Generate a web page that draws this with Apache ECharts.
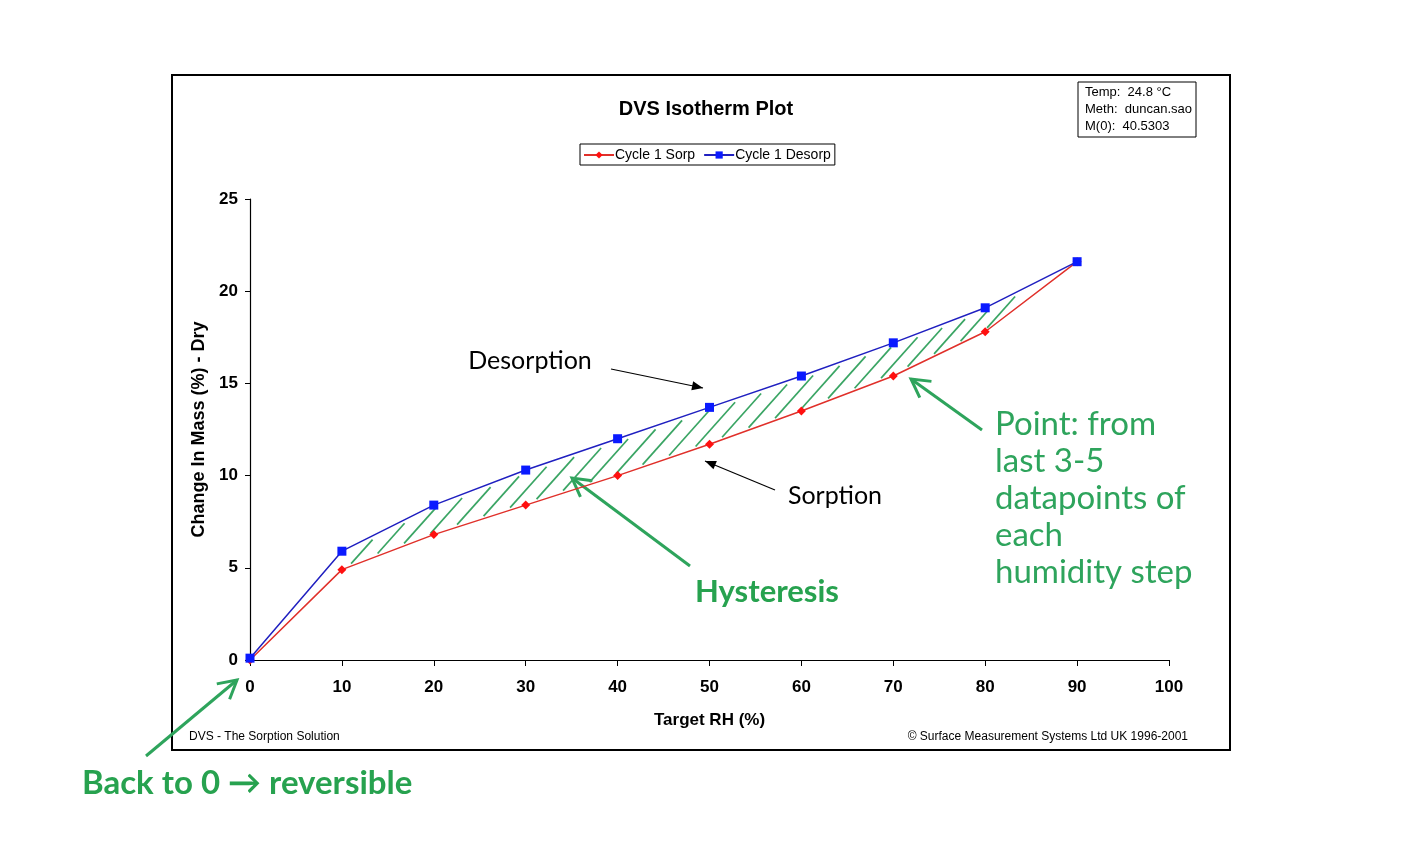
<!DOCTYPE html>
<html><head><meta charset="utf-8">
<script src="https://cdn.jsdelivr.net/npm/echarts@6/dist/echarts.min.js"></script>
<style>html,body{margin:0;padding:0;background:#fff}#c{width:1408px;height:842px}</style>
</head><body><div id="c"></div>
<script>
const rh = [0, 10, 20, 30, 40, 50, 60, 70, 80, 90];
const sorp = [0.0, 4.9, 6.8, 8.4, 10.0, 11.7, 13.5, 15.4, 17.8, 21.6];
const desorp = [0.1, 5.9, 8.4, 10.3, 12.0, 13.7, 15.4, 17.2, 19.1, 21.6];
const xTicks = [0, 10, 20, 30, 40, 50, 60, 70, 80, 90, 100];
const yTicks = [0, 5, 10, 15, 20, 25];
const hatchFrom = 11, hatchTo = 83;

const green = '#2ea45c';
const AF = 'Liberation Sans, Arial, sans-serif';
const GF = 'Lato, Open Sans, sans-serif';

const chart = echarts.init(document.getElementById('c'));

function arrowHeadFilled(x1, y1, x2, y2, len, w) {
  const a = Math.atan2(y2 - y1, x2 - x1);
  const bx = x2 - len * Math.cos(a), by = y2 - len * Math.sin(a);
  const px = -Math.sin(a) * w, py = Math.cos(a) * w;
  return [[x2, y2], [bx + px, by + py], [bx - px, by - py]];
}
function chevron(x1, y1, x2, y2, len, w) {
  const a = Math.atan2(y2 - y1, x2 - x1);
  const bx = x2 - len * Math.cos(a), by = y2 - len * Math.sin(a);
  const px = -Math.sin(a) * w, py = Math.cos(a) * w;
  return [[bx + px, by + py], [x2, y2], [bx - px, by - py]];
}
function blackArrow(x1, y1, x2, y2) {
  return [
    {type: 'line', shape: {x1, y1, x2, y2}, style: {stroke: '#000', lineWidth: 1.2}},
    {type: 'polygon', shape: {points: arrowHeadFilled(x1, y1, x2, y2, 11, 4.5)}, style: {fill: '#000'}}
  ];
}
function greenArrow(x1, y1, x2, y2) {
  return [
    {type: 'line', shape: {x1, y1, x2, y2}, style: {stroke: green, lineWidth: 3}},
    {type: 'polyline', shape: {points: chevron(x1, y1, x2, y2, 18, 10)}, style: {stroke: green, lineWidth: 3, fill: null}}
  ];
}
function interp(poly, x) {
  for (let i = 0; i < poly.length - 1; i++) {
    const a = poly[i], b = poly[i + 1];
    if (x >= a[0] && x <= b[0]) return a[1] + (b[1] - a[1]) * (x - a[0]) / (b[0] - a[0]);
  }
  return poly[poly.length - 1][1];
}

const option = {
  animation: false,
  backgroundColor: '#fff',
  title: {
    text: 'DVS Isotherm Plot', left: 701, top: 94, textAlign: 'center',
    textStyle: {fontFamily: AF, fontWeight: 'bold', fontSize: 20, color: '#000'}
  },
  legend: {
    top: 144, left: 580, itemGap: 8, itemWidth: 30, itemHeight: 9,
    borderColor: '#000', borderWidth: 1, padding: [4, 4, 3, 3],
    textStyle: {fontFamily: AF, fontSize: 14, color: '#000', padding: [0, 0, 0, -4]},
    data: ['Cycle 1 Sorp', 'Cycle 1 Desorp']
  },
  grid: {left: 250, right: 239, top: 199, bottom: 182},
  xAxis: {
    type: 'value', min: 0, max: 100, interval: 10,
    name: 'Target RH (%)', nameLocation: 'middle', nameGap: 52,
    nameTextStyle: {fontFamily: AF, fontWeight: 'bold', fontSize: 17, color: '#000'},
    axisLine: {lineStyle: {color: '#000', width: 1.2}},
    axisTick: {show: true, length: 6, inside: false, lineStyle: {color: '#000'}},
    axisLabel: {fontFamily: AF, fontWeight: 'bold', fontSize: 17, color: '#000', margin: 19,
      formatter: v => xTicks.includes(v) ? String(v) : ''},
    splitLine: {show: false}
  },
  yAxis: {
    type: 'value', min: 0, max: 25, interval: 5,
    name: 'Change In Mass (%) - Dry', nameLocation: 'middle', nameGap: 41, nameRotate: 90,
    nameTextStyle: {fontFamily: AF, fontWeight: 'bold', fontSize: 18, color: '#000'},
    axisLine: {show: true, lineStyle: {color: '#000', width: 1.2}},
    axisTick: {show: true, length: 5, lineStyle: {color: '#000'}},
    axisLabel: {fontFamily: AF, fontWeight: 'bold', fontSize: 17, color: '#000', margin: 12,
      formatter: v => yTicks.includes(v) ? String(v) : ''},
    splitLine: {show: false}
  },
  series: [
    {
      type: 'custom', name: 'hatch', silent: true, z: 1,
      data: [[0, 0]],
      renderItem: function (params, api) {
        const lo = rh.map((x, i) => api.coord([x, sorp[i]]));
        const up = rh.map((x, i) => api.coord([x, desorp[i]]));
        const xs = api.coord([hatchFrom, 0])[0], xe = api.coord([hatchTo, 0])[0];
        const children = [];
        const k = 1.12, step = 26.5;
        for (let x0 = xs; x0 <= xe; x0 += step) {
          const y0 = interp(lo, x0) - 2.5;
          if (y0 - interp(up, x0) < 6) continue;
          let x = x0, y = y0;
          while (x < x0 + 60) {
            const nx = x + 0.5, ny = y0 - k * (nx - x0);
            if (ny <= interp(up, nx) + 3.5) break;
            x = nx; y = ny;
          }
          if (y0 - y > 4) children.push({type: 'line', shape: {x1: x0, y1: y0, x2: x, y2: y},
            style: {stroke: '#3aa564', lineWidth: 1.7}});
        }
        return {type: 'group', children};
      }
    },
    {
      name: 'Cycle 1 Sorp', type: 'line', z: 3,
      data: rh.map((x, i) => [x, sorp[i]]),
      symbol: 'diamond', symbolSize: 9,
      itemStyle: {color: '#ff1010'},
      lineStyle: {color: '#e0302a', width: 1.5}
    },
    {
      name: 'Cycle 1 Desorp', type: 'line', z: 4,
      data: rh.map((x, i) => [x, desorp[i]]),
      symbol: 'rect', symbolSize: 9,
      itemStyle: {color: '#0a1aff'},
      lineStyle: {color: '#2020c0', width: 1.5}
    }
  ],
  graphic: [
    {type: 'rect', shape: {x: 172, y: 75, width: 1058, height: 675}, style: {fill: null, stroke: '#000', lineWidth: 2}, z: 0},
    {type: 'rect', shape: {x: 1078, y: 82, width: 118, height: 55}, style: {fill: '#fff', stroke: '#000', lineWidth: 1}},
    {type: 'text', x: 1085, y: 84, style: {text: 'Temp:  24.8 °C\nMeth:  duncan.sao\nM(0):  40.5303', font: '13px ' + AF, fill: '#000', lineHeight: 17}},
    {type: 'text', x: 189, y: 731, style: {text: 'DVS - The Sorption Solution', font: '12px ' + AF, fill: '#000'}},
    {type: 'text', x: 1188, y: 731, style: {text: '© Surface Measurement Systems Ltd UK 1996-2001', font: '12px ' + AF, fill: '#000', textAlign: 'right'}},
    {type: 'text', x: 530, y: 361, style: {text: 'Desorption', font: '25px ' + GF, fill: '#000', textAlign: 'center', textVerticalAlign: 'middle'}},
    {type: 'text', x: 835, y: 496, style: {text: 'Sorption', font: '25px ' + GF, fill: '#000', textAlign: 'center', textVerticalAlign: 'middle'}},
    ...blackArrow(611, 369, 703, 388),
    ...blackArrow(775, 490, 705, 461),
    {type: 'text', x: 767, y: 592, style: {text: 'Hysteresis', font: 'bold 31px ' + GF, fill: '#27a24f', textAlign: 'center', textVerticalAlign: 'middle'}},
    ...greenArrow(690, 566, 572, 478),
    {type: 'text', x: 995, y: 406, style: {text: 'Point: from\nlast 3-5\ndatapoints of\neach\nhumidity step', font: '33px ' + GF, fill: green, lineHeight: 37}},
    ...greenArrow(982, 430, 911, 379),
    {type: 'text', x: 82, y: 783, style: {text: 'Back to 0 \u2192 reversible', font: 'bold 33px ' + GF, fill: '#27a24f', textVerticalAlign: 'middle'}},
    ...greenArrow(146, 756, 237, 680)
  ]
};
chart.setOption(option);
</script></body></html>
